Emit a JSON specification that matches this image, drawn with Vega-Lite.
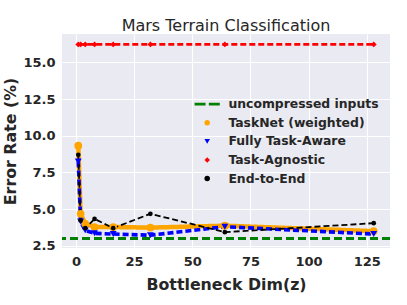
{
  "$schema": "https://vega.github.io/schema/vega-lite/v6.json",
  "autosize": "none",
  "width": 328,
  "height": 214,
  "padding": {"left": 62, "top": 34, "right": 17, "bottom": 57},
  "background": "white",
  "title": {"text": "Mars Terrain Classification", "fontSize": 16, "fontWeight": "normal", "font": "DejaVu Sans", "color": "#262626", "anchor": "middle", "frame": "group", "offset": 0},
  "config": {
    "view": {"fill": "#EAEAF2", "stroke": null},
    "axis": {"domain": false, "ticks": false, "grid": true, "gridColor": "white", "gridWidth": 1.1, "labelFont": "DejaVu Sans", "labelFontWeight": "bold", "labelFontSize": 13, "labelColor": "#262626", "titleFont": "DejaVu Sans", "titleFontWeight": "bold", "titleFontSize": 15.8, "titleColor": "#262626"},
    "legend": {"labelFont": "DejaVu Sans", "labelFontWeight": "bold", "labelFontSize": 12.4, "labelColor": "#262626"}
  },
  "datasets": {
    "d": [
      {"series": "TaskNet (weighted)", "x": 1, "y": 9.32},
      {"series": "TaskNet (weighted)", "x": 2, "y": 4.68},
      {"series": "TaskNet (weighted)", "x": 4, "y": 4.0},
      {"series": "TaskNet (weighted)", "x": 8, "y": 3.78},
      {"series": "TaskNet (weighted)", "x": 16, "y": 3.78},
      {"series": "TaskNet (weighted)", "x": 32, "y": 3.74},
      {"series": "TaskNet (weighted)", "x": 64, "y": 3.87},
      {"series": "TaskNet (weighted)", "x": 128, "y": 3.5},
      {"series": "Fully Task-Aware", "x": 1, "y": 8.25},
      {"series": "Fully Task-Aware", "x": 2, "y": 4.15},
      {"series": "Fully Task-Aware", "x": 4, "y": 3.55},
      {"series": "Fully Task-Aware", "x": 8, "y": 3.35},
      {"series": "Fully Task-Aware", "x": 16, "y": 3.3},
      {"series": "Fully Task-Aware", "x": 32, "y": 3.22},
      {"series": "Fully Task-Aware", "x": 64, "y": 3.8},
      {"series": "Fully Task-Aware", "x": 128, "y": 3.3},
      {"series": "Task-Agnostic", "x": 1, "y": 16.22},
      {"series": "Task-Agnostic", "x": 2, "y": 16.22},
      {"series": "Task-Agnostic", "x": 4, "y": 16.22},
      {"series": "Task-Agnostic", "x": 8, "y": 16.22},
      {"series": "Task-Agnostic", "x": 16, "y": 16.22},
      {"series": "Task-Agnostic", "x": 32, "y": 16.22},
      {"series": "Task-Agnostic", "x": 64, "y": 16.22},
      {"series": "Task-Agnostic", "x": 128, "y": 16.22},
      {"series": "End-to-End", "x": 1, "y": 8.7},
      {"series": "End-to-End", "x": 2, "y": 4.22},
      {"series": "End-to-End", "x": 4, "y": 3.7},
      {"series": "End-to-End", "x": 8, "y": 4.33},
      {"series": "End-to-End", "x": 16, "y": 3.7},
      {"series": "End-to-End", "x": 32, "y": 4.68},
      {"series": "End-to-End", "x": 64, "y": 3.43},
      {"series": "End-to-End", "x": 128, "y": 4.04}
    ]
  },
  "layer": [
    {
      "data": {"values": [{"y": 3.0}]},
      "mark": {"type": "rule", "color": "green", "strokeWidth": 3, "strokeDash": [8, 4]},
      "encoding": {
        "y": {"field": "y", "type": "quantitative", "scale": {"domain": [2.35, 16.93], "nice": false, "zero": false}}
      }
    },
    {
      "data": {"name": "d"},
      "mark": {"type": "line"},
      "encoding": {
        "x": {"field": "x", "type": "quantitative", "scale": {"domain": [-6, 135], "nice": false, "zero": false}, "axis": {"values": [0, 25, 50, 75, 100, 125], "title": "Bottleneck Dim(z)", "labelPadding": 7, "titlePadding": 9}},
        "y": {"field": "y", "type": "quantitative", "scale": {"domain": [2.35, 16.93], "nice": false, "zero": false}, "axis": {"values": [2.5, 5, 7.5, 10, 12.5, 15], "format": ".1f", "title": "Error Rate (%)", "labelPadding": 7, "titlePadding": 4}},
        "stroke": {"field": "series", "type": "nominal", "scale": {"domain": ["TaskNet (weighted)", "Fully Task-Aware", "Task-Agnostic", "End-to-End"], "range": ["#FFA500", "#0000FF", "#FF0000", "#000000"]}, "legend": null},
        "strokeDash": {"field": "series", "type": "nominal", "scale": {"domain": ["TaskNet (weighted)", "Fully Task-Aware", "Task-Agnostic", "End-to-End"], "range": [[1, 0], [6, 3], [6, 3], [6, 3]]}, "legend": null},
        "strokeWidth": {"field": "series", "type": "nominal", "scale": {"domain": ["TaskNet (weighted)", "Fully Task-Aware", "Task-Agnostic", "End-to-End"], "range": [4.5, 1.8, 1.8, 1.8]}, "legend": null}
      }
    },
    {
      "data": {"name": "d"},
      "mark": {"type": "point", "filled": true, "opacity": 1},
      "encoding": {
        "x": {"field": "x", "type": "quantitative"},
        "y": {"field": "y", "type": "quantitative"},
        "fill": {"field": "series", "type": "nominal", "scale": {"domain": ["uncompressed inputs", "TaskNet (weighted)", "Fully Task-Aware", "Task-Agnostic", "End-to-End"], "range": ["green", "#FFA500", "#0000FF", "#FF0000", "#000000"]},
          "legend": {"title": null, "orient": "none", "legendX": 139, "legendY": 64, "padding": 0, "symbolSize": 30, "symbolStrokeWidth": 0, "labelOffset": 15, "rowPadding": 5.6}},
        "shape": {"field": "series", "type": "nominal", "scale": {"domain": ["uncompressed inputs", "TaskNet (weighted)", "Fully Task-Aware", "Task-Agnostic", "End-to-End"], "range": ["M-4.6,-0.5H-0.6V0.5H-4.6Z M0.6,-0.5H4.6V0.5H0.6Z", "circle", "triangle-down", "diamond", "circle"]}},
        "size": {"field": "series", "type": "nominal", "scale": {"domain": ["TaskNet (weighted)", "Fully Task-Aware", "Task-Agnostic", "End-to-End"], "range": [60, 22, 30, 16]}, "legend": null}
      }
    }
  ]
}
